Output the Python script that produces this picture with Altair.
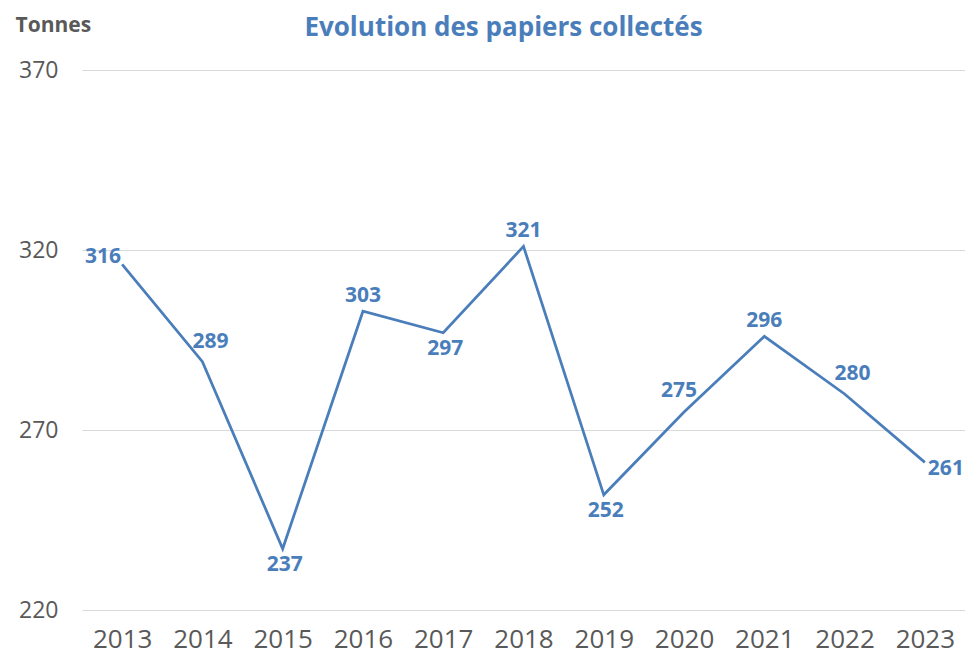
import altair as alt
import pandas as pd

years = ["2013", "2014", "2015", "2016", "2017", "2018", "2019", "2020", "2021", "2022", "2023"]
tonnes = [316, 289, 237, 303, 297, 321, 252, 275, 296, 280, 261]
# where each data label sits relative to its point (as in the reference)
placements = ["left", "above-right", "below", "above", "below", "above",
              "below", "above-left", "above", "above-right", "right"]
y_ticks = [220, 270, 320, 370]

df = pd.DataFrame({"year": years, "tonnes": tonnes, "place": placements})

BLUE = "#4a7ebb"
GREY = "#595959"
FONT = "Open Sans"

x = alt.X("year:O", scale=alt.Scale(type="point", padding=0.5),
          axis=alt.Axis(title=None, labelAngle=0, labelFontSize=26, labelFont=FONT,
                        labelColor=GREY, ticks=False, domain=False, labelPadding=16,
                        grid=False))
y = alt.Y("tonnes:Q", scale=alt.Scale(domain=[220, 370], nice=False, zero=False),
          axis=alt.Axis(values=y_ticks, title="Tonnes", titleAngle=0, titleAlign="left",
                        titleBaseline="alphabetic", titleX=-67, titleY=-39,
                        titleFont=FONT, titleFontSize=21, titleFontWeight="bold",
                        titleColor=GREY, labelFont=FONT, labelFontSize=23,
                        labelColor=GREY, labelPadding=24, ticks=False, domain=False,
                        gridColor="#d9d9d9", gridWidth=1))

base = alt.Chart(df)
line = base.mark_line(color=BLUE, strokeWidth=2.75).encode(x=x, y=y)

offsets = {
    "left": dict(dx=-1, dy=-7, align="right"),
    "right": dict(dx=3, dy=7, align="left"),
    "above": dict(dx=0, dy=-15, align="center"),
    "above-right": dict(dx=8, dy=-20, align="center"),
    "above-left": dict(dx=-5, dy=-21, align="center"),
    "below": dict(dx=2, dy=16, align="center"),
}

labels = []
for name, o in offsets.items():
    labels.append(
        base.transform_filter(alt.datum.place == name)
        .mark_text(font=FONT, fontSize=21, fontWeight="bold", color=BLUE,
                   baseline="middle", **o)
        .encode(x=alt.X("year:O"), y=alt.Y("tonnes:Q"), text="tonnes:Q")
    )

chart = alt.layer(line, *labels).properties(
    width=883, height=540,
    title=alt.TitleParams("Evolution des papiers collectés", font=FONT, fontSize=26,
                          fontWeight="bold", color=BLUE, anchor="middle", dx=-20,
                          dy=35, offset=8),
    autosize=alt.AutoSizeParams(type="none"),
    padding={"left": 74, "top": 62, "right": 0, "bottom": 45},
).configure_view(stroke=None)

chart.save("out.html", embed_options={"renderer": "svg", "actions": False})
